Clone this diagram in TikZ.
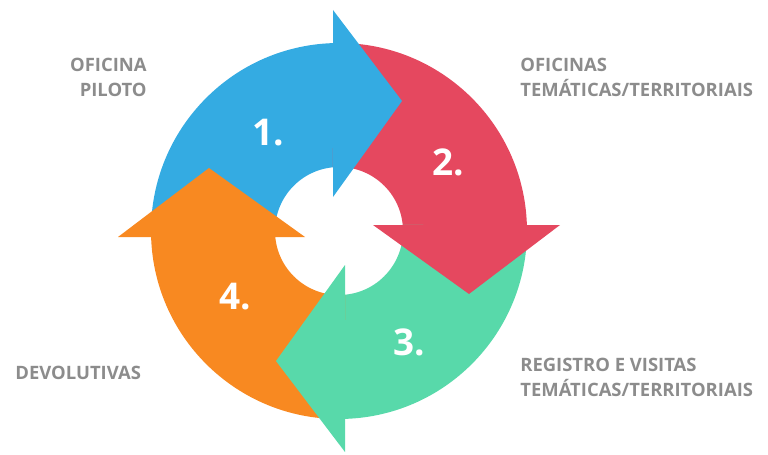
\documentclass[tikz,border=0pt]{standalone}
\usepackage{fontspec}
\setmainfont{Open Sans}
\usepackage{xcolor}
\usepackage{tikz}
\usetikzlibrary{positioning, calc}

\definecolor{cycblue}{RGB}{52,171,226}
\definecolor{cycred}{RGB}{229,72,95}
\definecolor{cycgreen}{RGB}{88,217,170}
\definecolor{cycorange}{RGB}{248,137,33}
\definecolor{lblgray}{RGB}{140,140,140}

\begin{document}
\begin{tikzpicture}[
    x=0.02cm, y=0.02cm,
    num/.style={text=white, font=\fontsize{21}{24}\selectfont\bfseries, inner sep=0pt},
    lbl/.style={text=lblgray, font=\fontsize{10.5}{14.2}\selectfont\bfseries, inner sep=0pt}
]
\useasboundingbox (0,0) rectangle (768,454);

\begin{scope}[shift={(339,223)}]
% ring segments
\fill[cycblue] (185.4:64) -- (181.8:188) arc (181.8:91.8:188) -- (95.4:64) arc (95.4:185.4:64) -- cycle;
\fill[cycred] (95.4:64) -- (91.8:188) arc (91.8:1.8:188) -- (5.4:64) arc (5.4:95.4:64) -- cycle;
\fill[cycgreen] (5.4:64) -- (1.8:188) arc (1.8:-88.2:188) -- (-84.6:64) arc (-84.6:5.4:64) -- cycle;
\fill[cycorange] (-84.6:64) -- (-88.2:188) arc (-88.2:-178.2:188) -- (-174.6:64) arc (-174.6:-84.6:64) -- cycle;
% heads
\fill[cycblue] (-6,34) -- (-6,221) -- (63,130) -- cycle;
\fill[cycred] (34,6) -- (221,6) -- (130,-63) -- cycle;
\fill[cycgreen] (6,-34) -- (6,-221) -- (-63,-130) -- cycle;
\fill[cycorange] (-34,-6) -- (-221,-6) -- (-130,63) -- cycle;
\end{scope}

\node[num] (n1) at (268,321) {1.};
\node[num] (n2) at (448,292) {2.};
\node[num] (n3) at (409,112) {3.};
\node[num] (n4) at (235,157) {4.};

\node[lbl, anchor=east, align=right] (piloto) at (147,377) {OFICINA\\PILOTO};
\node[lbl, anchor=west, align=left] (oficinas) at (520,377) {OFICINAS\\TEMÁTICAS/TERRITORIAIS};
\node[lbl, anchor=west] (devol) at (15,81) {DEVOLUTIVAS};
\node[lbl, anchor=west, align=left] (registro) at (520,77) {REGISTRO E VISITAS\\TEMÁTICAS/TERRITORIAIS};

\end{tikzpicture}
\end{document}
